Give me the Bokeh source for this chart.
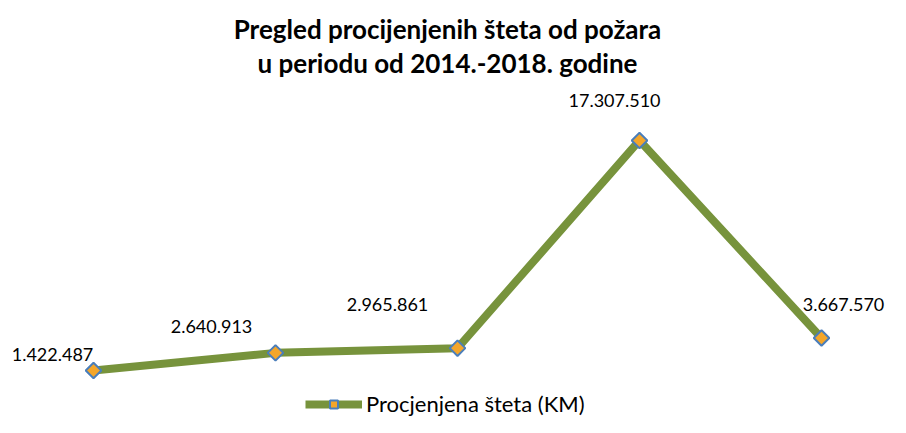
import math
from bokeh.plotting import figure
from bokeh.models import ColumnDataSource, Legend, LegendItem, Label, Range1d
from bokeh.core.properties import value
from bokeh.embed import file_html
from bokeh.resources import INLINE

years = ["2014", "2015", "2016", "2017", "2018"]
damage = [1422487, 2640913, 2965861, 17307510, 3667570]
labels = ["1.422.487", "2.640.913", "2.965.861", "17.307.510", "3.667.570"]
title_lines = ["Pregled procijenjenih šteta od požara", "u periodu od 2014.-2018. godine"]
series_name = "Procjenjena šteta (KM)"

# label offsets (screen px) relative to each marker
label_dx = [-41, -64, -70, -25, 22]
label_dy = [-16, -26, -44, -40, -33]

W, H = 890, 417
p = figure(width=W, height=H, output_backend="svg", toolbar_location=None,
           min_border=0, outline_line_color=None, background_fill_color="white",
           border_fill_color="white")
p.x_range = Range1d(-0.511, 4.379)
p.y_range = Range1d(-1823000, 26975000)
p.axis.visible = False
p.grid.visible = False

xs = list(range(len(years)))
src = ColumnDataSource(dict(x=xs, y=damage, lab=labels, dx=label_dx, dy=label_dy, year=years))

green = "#77933C"
orange = "#F4A62A"
blue = "#4A7EBB"
ln = p.line("x", "y", source=src, line_color=green, line_width=8, line_join="round")
sc = p.scatter("x", "y", source=src, marker="square", angle=math.pi / 4, size=11,
               fill_color=orange, line_color=blue, line_width=2)

p.text("x", "y", text="lab", source=src, x_offset="dx", y_offset="dy",
       text_align="center", text_baseline="middle", text_font=value("Lato"),
       text_font_size="18px", text_color="#000000")

for t, yy in zip(title_lines, [389, 355]):
    p.add_layout(Label(x=447, y=yy, x_units="screen", y_units="screen", text=t,
                       text_align="center", text_baseline="middle", text_font="Lato",
                       text_font_style="bold", text_font_size="26px", text_color="#000000"))

legend = Legend(items=[LegendItem(label=series_name, renderers=[ln, sc])],
                location=(305, 0), orientation="horizontal",
                glyph_width=57, glyph_height=20, label_standoff=4,
                label_text_font="Lato", label_text_font_size="22px",
                label_text_color="#000000", padding=0, margin=0, spacing=0,
                border_line_color=None, background_fill_alpha=0)
p.add_layout(legend)

open("out.html", "w").write(file_html(p, INLINE))
